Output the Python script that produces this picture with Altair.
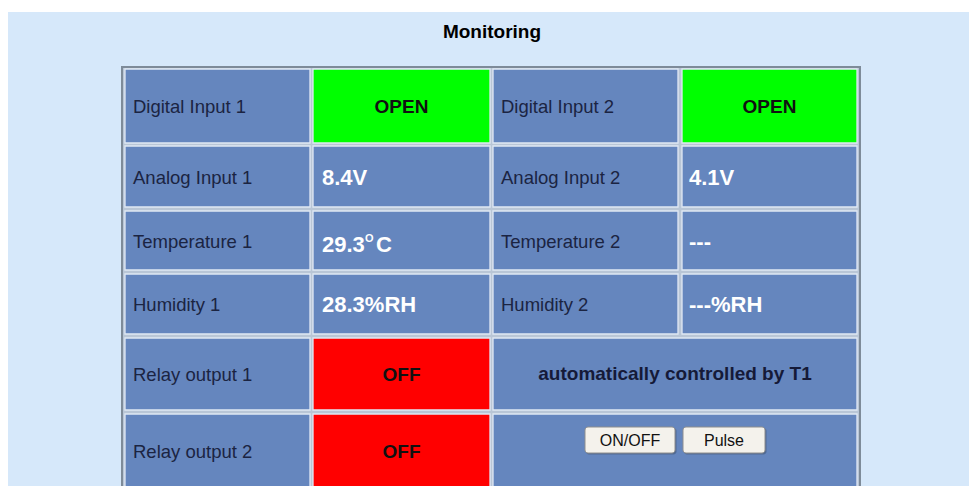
import altair as alt
import pandas as pd

# ---------------- data ----------------
title_text = "Monitoring"
left_labels = ["Digital Input 1", "Analog Input 1", "Temperature 1",
               "Humidity 1", "Relay output 1", "Relay output 2"]
left_values = ["OPEN", "8.4V", "29.3", "28.3%RH", "OFF", "OFF"]
right_labels = ["Digital Input 2", "Analog Input 2", "Temperature 2", "Humidity 2"]
right_values = ["OPEN", "4.1V", "---", "---%RH"]
temp_unit = ["O", "C"]           # superscript "O" followed by "C"
relay1_note = "automatically controlled by T1"
relay2_buttons = ["ON/OFF", "Pulse"]
state_colors = {"OPEN": "#00ff00", "OFF": "#ff0000"}

# ---------------- layout (page pixels) ----------------
W, H = 961, 478
COLS = [(125, 310), (313, 490), (493, 678), (682, 857)]
ROWS = [(69, 143), (146, 207), (211, 270), (274, 334), (338, 410), (414, 488)]
TABLE = (122, 860, 67, 492)
BLUE = "#6586be"
FONT = "Liberation Sans"

xs = alt.Scale(domain=[8, 8 + W], range=[0, W], nice=False, zero=False)
ys = alt.Scale(domain=[8, 8 + H], range=[0, H], nice=False, zero=False)


def X(f="x"):
    return alt.X(f"{f}:Q", scale=xs, axis=None)


def Y(f="y"):
    return alt.Y(f"{f}:Q", scale=ys, axis=None)


# background rects
bg = pd.DataFrame([
    {"x": 8, "x2": 8 + W, "y": 8, "y2": 8 + H, "fill": "#ffffff"},
    {"x": 8, "x2": 8 + W, "y": 12, "y2": 8 + H, "fill": "#d6e8fa"},
])
table = pd.DataFrame([{"x": TABLE[0], "x2": TABLE[1], "y": TABLE[2], "y2": TABLE[3], "fill": "#b9c6d6"}])

cells = []
for r, (y0, y1) in enumerate(ROWS):
    cells.append({"x": COLS[0][0], "x2": COLS[0][1], "y": y0, "y2": y1, "fill": BLUE})
    v = left_values[r]
    cells.append({"x": COLS[1][0], "x2": COLS[1][1], "y": y0, "y2": y1,
                  "fill": state_colors.get(v, BLUE)})
    if r < len(right_labels):
        cells.append({"x": COLS[2][0], "x2": COLS[2][1], "y": y0, "y2": y1, "fill": BLUE})
        v2 = right_values[r]
        cells.append({"x": COLS[3][0], "x2": COLS[3][1], "y": y0, "y2": y1,
                      "fill": state_colors.get(v2, BLUE)})
    else:
        cells.append({"x": COLS[2][0], "x2": COLS[3][1], "y": y0, "y2": y1, "fill": BLUE})
cells = pd.DataFrame(cells)


def mid(r):
    return (ROWS[r][0] + ROWS[r][1]) / 2 + 1


# text tables
labels = []
for r, t in enumerate(left_labels):
    labels.append({"x": COLS[0][0] + 8, "y": mid(r), "text": t})
for r, t in enumerate(right_labels):
    labels.append({"x": COLS[2][0] + 8, "y": mid(r), "text": t})
labels = pd.DataFrame(labels)

values, states = [], []
for r, v in enumerate(left_values):
    if v in state_colors:
        states.append({"x": sum(COLS[1]) / 2, "y": mid(r), "text": v})
    else:
        yy = mid(r) + (3 if r == 2 else 0)
        values.append({"x": COLS[1][0] + 9, "y": yy, "text": v})
for r, v in enumerate(right_values):
    if v in state_colors:
        states.append({"x": sum(COLS[3]) / 2, "y": mid(r), "text": v})
    else:
        values.append({"x": COLS[3][0] + 7, "y": mid(r), "text": v})
values = pd.DataFrame(values)
states = pd.DataFrame(states)

# temperature unit: small raised "O" then "C"
t_x0 = COLS[1][0] + 9 + 43
sup = pd.DataFrame([{"x": t_x0, "y": mid(2) - 3, "text": temp_unit[0]}])
unit_c = pd.DataFrame([{"x": t_x0 + 11, "y": mid(2) + 3, "text": temp_unit[1]}])

note = pd.DataFrame([{"x": (COLS[2][0] + COLS[3][1]) / 2, "y": (ROWS[4][0] + ROWS[4][1]) / 2, "text": relay1_note}])

btn_boxes = pd.DataFrame([
    {"x": 585, "x2": 675, "y": 427, "y2": 453, "text": relay2_buttons[0]},
    {"x": 683, "x2": 765, "y": 427, "y2": 453, "text": relay2_buttons[1]},
])
btn_boxes["cx"] = (btn_boxes["x"] + btn_boxes["x2"]) / 2
btn_boxes["cy"] = (btn_boxes["y"] + btn_boxes["y2"]) / 2 + 1
btn_shadow = btn_boxes.copy()
btn_shadow["x"] += 1
btn_shadow["x2"] += 1.5
btn_shadow["y"] += 1
btn_shadow["y2"] += 1.5

title = pd.DataFrame([{"x": 492, "y": 32, "text": title_text}])


def rects(df, **kw):
    return alt.Chart(df).mark_rect(**kw).encode(
        x=X("x"), x2="x2", y=Y("y"), y2="y2",
        color=alt.Color("fill:N", scale=None))


def texts(df, x="x", y="y", **kw):
    return alt.Chart(df).mark_text(font=FONT, baseline="middle", **kw).encode(
        x=X(x), y=Y(y), text="text:N")


layers = [
    rects(bg),
    rects(table, stroke="#7e8b99", strokeWidth=2),
    rects(cells, stroke="#e0e9f4", strokeWidth=1.3),
    texts(labels, align="left", fontSize=18.5, color="#1b2442"),
    texts(values, align="left", fontSize=22, fontWeight="bold", color="#ffffff"),
    texts(sup, align="left", fontSize=11, fontWeight="bold", color="#ffffff"),
    texts(unit_c, align="left", fontSize=22, fontWeight="bold", color="#ffffff"),
    texts(states, align="center", fontSize=19, fontWeight="bold", color="#111111"),
    texts(note, align="center", fontSize=19, fontWeight="bold", color="#151a38"),
    alt.Chart(btn_shadow).mark_rect(color="#3f4f6a", cornerRadius=3, opacity=0.5).encode(
        x=X("x"), x2="x2", y=Y("y"), y2="y2"),
    alt.Chart(btn_boxes).mark_rect(color="#f4f2ec", stroke="#8e8e8e", strokeWidth=1, cornerRadius=3).encode(
        x=X("x"), x2="x2", y=Y("y"), y2="y2"),
    texts(btn_boxes, x="cx", y="cy", align="center", fontSize=16, color="#111111"),
    texts(title, align="center", fontSize=19, fontWeight="bold", color="#000000"),
]

chart = alt.layer(*layers).properties(
    width=W, height=H,
    autosize=alt.AutoSizeParams(type="none"),
    padding=0,
).configure_view(stroke=None).configure(background="#ffffff")

chart.save("out.html", embed_options={"renderer": "svg", "actions": False})
